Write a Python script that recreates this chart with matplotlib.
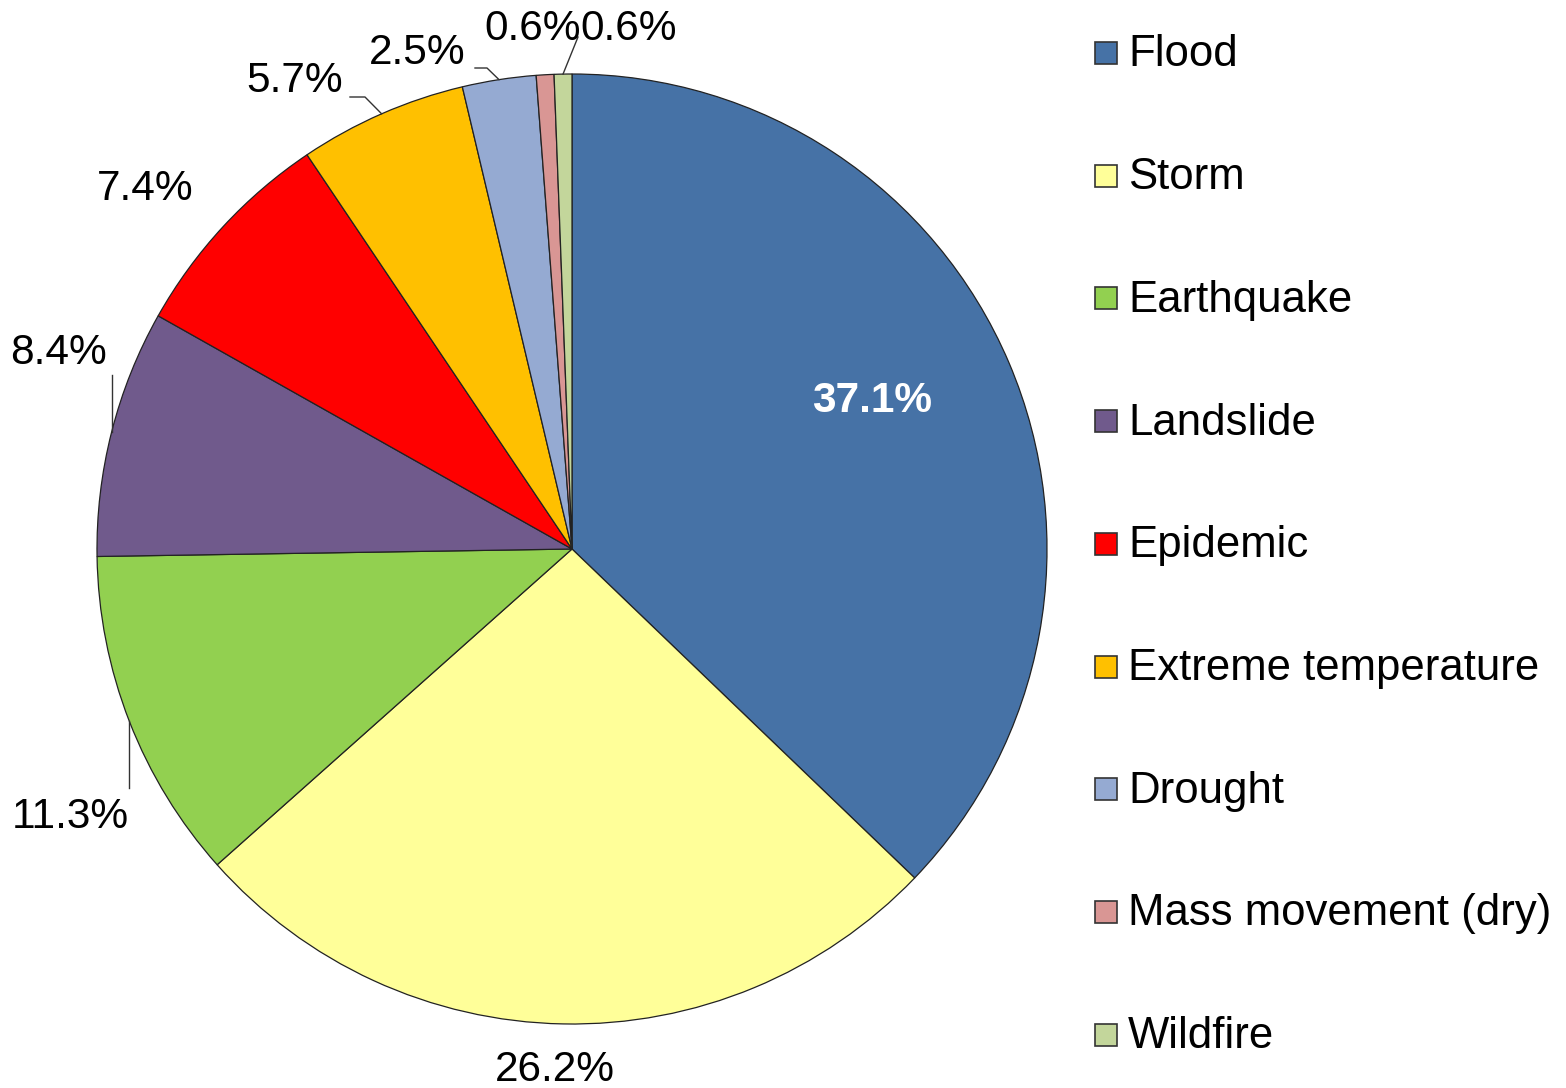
import numpy as np
import matplotlib
matplotlib.use("Agg")
import matplotlib.pyplot as plt
from matplotlib.patches import Rectangle

plt.rcParams['font.family'] = ['Liberation Sans', 'DejaVu Sans']

categories = ["Flood", "Storm", "Earthquake", "Landslide", "Epidemic",
              "Extreme temperature", "Drought", "Mass movement (dry)", "Wildfire"]
values = [37.1, 26.2, 11.3, 8.4, 7.4, 5.7, 2.5, 0.6, 0.6]
labels = ["37.1%", "26.2%", "11.3%", "8.4%", "7.4%", "5.7%", "2.5%", "0.6%", "0.6%"]
colors = ["#4672A6", "#FFFF99", "#92D050", "#705A8C", "#FF0000",
          "#FFC000", "#95AAD2", "#D99694", "#C3D69B"]

W, H = 1566, 1088
fig = plt.figure(figsize=(W / 100, H / 100), dpi=100)
ax = fig.add_axes([0, 0, 1, 1])
ax.set_xlim(0, W)
ax.set_ylim(0, H)
ax.set_aspect('equal')
ax.axis('off')

cx, cy_img, R = 572, 549, 475
cy = H - cy_img

wedges, _ = ax.pie(values, colors=colors, startangle=90, counterclock=False,
                   center=(cx, cy), radius=R, frame=True,
                   wedgeprops=dict(edgecolor="#222222", linewidth=0.9))
ax.set_xlim(0, W)
ax.set_ylim(0, H)
ax.axis('off')

# label layout (image pixel coords of label centres) and leader-line elbows
label_pos = [(872, 401), (555, 1070), (70, 817), (58, 353), (145, 189),
             (295, 81), (417, 53), (533, 29), (629, 29)]
leaders = [None, None, [(None, 788)], [(None, 375)], None,
           [(365, 97), (350, 97)], [(487, 68), (475, 68)], None, [(578, 37)]]

fs = 30.5
for i, (w, lab) in enumerate(zip(wedges, labels)):
    x, y = label_pos[i]
    if i == 0:
        ax.text(x, H - y, lab, ha='center', va='center', fontsize=fs,
                color='white', fontweight='bold')
    else:
        ax.text(x, H - y, lab, ha='center', va='center', fontsize=fs, color='black')
    if leaders[i]:
        ang = np.deg2rad((w.theta1 + w.theta2) / 2)
        ax0 = cx + R * np.cos(ang)
        ay0 = cy + R * np.sin(ang)
        xs, ys = [ax0], [ay0]
        for (px, py) in leaders[i]:
            xs.append(ax0 if px is None else px)
            ys.append(H - py)
        ax.plot(xs, ys, color='#333333', lw=1.0)

# legend
leg_x, leg_y0, leg_dy, box = 1095, 53, 122.7, 22
for i, (cat, col) in enumerate(zip(categories, colors)):
    yc = H - (leg_y0 + i * leg_dy)
    ax.add_patch(Rectangle((leg_x, yc - box / 2), box, box, facecolor=col,
                           edgecolor='#333333', lw=1.2))
    ax.text(leg_x + 33, yc - 2, cat, ha='left', va='center', fontsize=31.5, color='black')

fig.savefig("out.png", dpi=100)
